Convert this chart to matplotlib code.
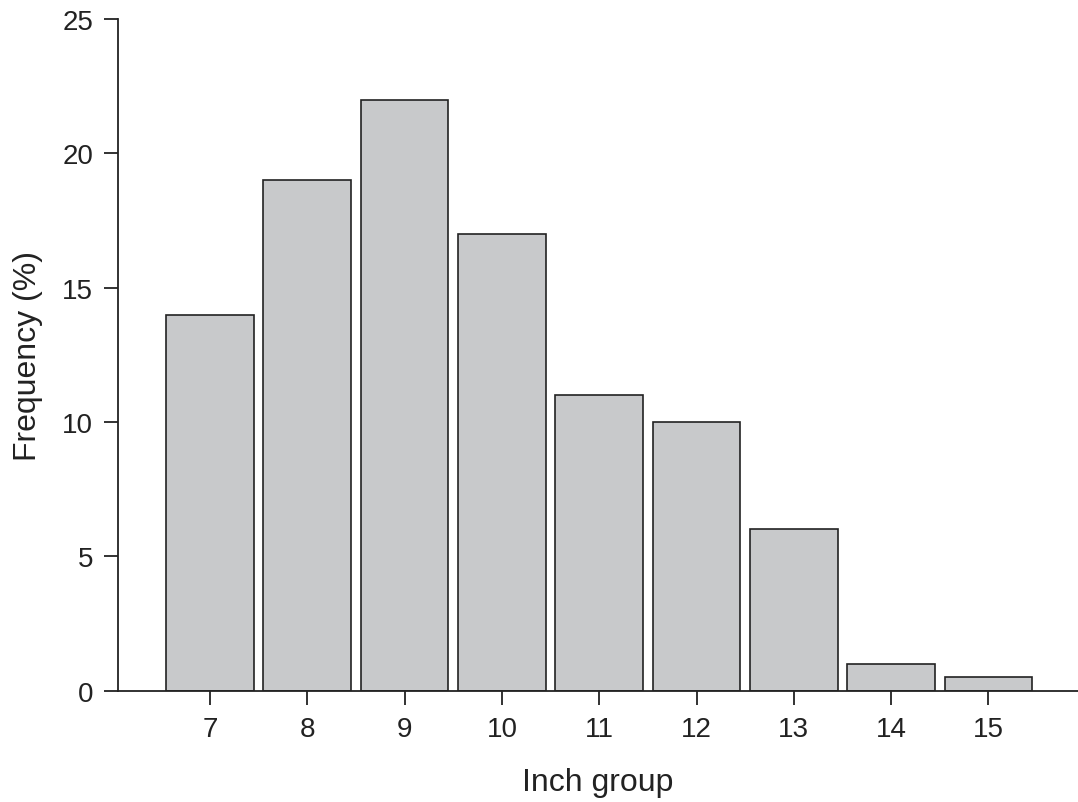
import matplotlib
matplotlib.use("Agg")
import matplotlib.pyplot as plt

inch_groups = [7, 8, 9, 10, 11, 12, 13, 14, 15]
frequency = [14, 19, 22, 17, 11, 10, 6, 1, 0.5]
y_ticks = [0, 5, 10, 15, 20, 25]

plt.rcParams['font.family'] = ['Liberation Sans', 'DejaVu Sans']

fig = plt.figure(figsize=(10.78, 8.03), dpi=100)
ax = fig.add_axes([118 / 1078, 111.3 / 803, 960 / 1078, 671.7 / 803])

ax.bar(inch_groups, frequency, width=0.9, color='#c8c9cb',
       edgecolor='#222222', linewidth=1.2)

ax.set_xlim(6.055, 15.92)
ax.set_ylim(0, 25)
ax.set_xticks(inch_groups)
ax.set_yticks(y_ticks)

for side in ['top', 'right']:
    ax.spines[side].set_visible(False)
for side in ['left', 'bottom']:
    ax.spines[side].set_linewidth(1.3)
    ax.spines[side].set_color('#222222')

ax.tick_params(direction='out', length=10, width=1.3, color='#222222',
               labelsize=20, pad=8, labelcolor='#222222')

ax.set_xlabel('Inch group', fontsize=23, labelpad=18, color='#222222')
ax.set_ylabel('Frequency (%)', fontsize=23, labelpad=14, color='#222222')

fig.savefig('out.png', dpi=100)
